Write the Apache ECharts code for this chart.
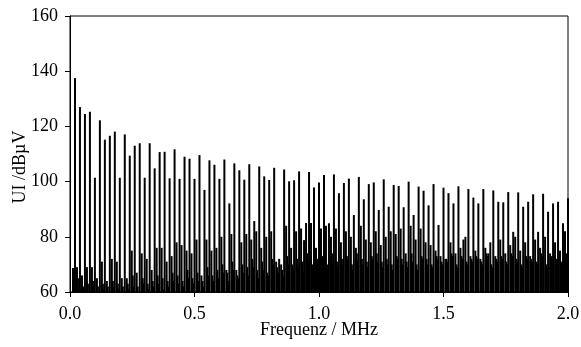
<!DOCTYPE html>
<html>
<head>
<meta charset="utf-8">
<script src="https://cdn.jsdelivr.net/npm/echarts@6/dist/echarts.min.js"></script>
<style>html,body{margin:0;padding:0;background:#fff}#c{width:581px;height:347px}</style>
</head>
<body>
<div id="c"></div>
<script>
// Fundamental frequency of the harmonic comb (MHz)
const fundamentalMHz = 0.02;
// Harmonic peak levels (dBµV), harmonics 1..100
const peakLevels = [
  137.5,127,124.5,125.3,101.4,122.2,115.2,116.6,118.1,101.4,
  117.1,109.4,113,113.9,101.4,113.9,104.8,110.7,110.8,101.2,
  111.7,101,109,108.3,101,109.6,97,107.7,106.1,101,
  108,92.1,106.6,104.1,100.7,106.3,85.7,105.5,101.9,100.6,
  105,72,104.4,100.1,100.5,103.7,78.8,103.5,97.9,99.7,
  102.4,84.9,102.6,95.8,99.5,101.1,87.9,101.7,93.6,99.1,
  99.7,89.7,100.8,90.9,98.8,98.4,90.7,100,87.9,98.2,
  96.7,91.4,99.1,84.3,97.8,95.8,92.1,98.3,79,97.3,
  94.2,92.1,97.3,74,96.8,92.7,92.5,96.2,81.8,96.1,
  90.9,92.7,95.4,81.8,95.6,89.1,92.1,92.7,84.9,94
];
// Companion (inter-harmonic) spikes, higher set (dBµV)
const noiseHigh = [
  69,66,69,69,65,71,64,72,71,65,
  65,75,67,74,72,68,76,76,71,73,
  78,77,75,74,79,66,79,75,76,80,
  68,81,68,78,81,79,82,76,80,82,
  71,70,84,76,82,83,85,85,76,83,
  84,80,83,78,82,80,76,84,79,78,
  82,77,80,82,81,83,74,84,79,83,
  78,77,75,73,72,78,74,76,80,73,
  75,72,76,78,73,79,74,77,80,75,
  78,73,79,76,80,74,78,75,82,76
];
// Companion spikes, lower set (dBµV)
const noiseLow = [
  65,62,63,64,62,63,62,64,63,62,
  63,66,62,65,63,64,66,65,64,67,
  66,64,68,65,67,64,69,66,68,70,
  67,71,66,70,69,72,68,71,67,72,
  69,68,73,70,72,71,74,70,72,73,
  70,74,71,72,73,70,74,72,71,73,
  74,71,72,70,73,72,71,74,70,73,
  72,70,73,71,72,74,70,73,71,72,
  73,71,74,70,72,73,71,74,72,70,
  73,72,71,74,70,73,72,71,74,72
];
// Companion spikes, third set just before the next harmonic (dBµV)
const noiseMid = [
  60,61,60,62,60,61,60,62,61,60,
  61,62,60,63,61,62,63,61,62,64,
  63,62,65,63,64,62,66,64,65,67,
  64,68,65,67,66,69,65,68,66,70,
  67,66,70,68,69,67,71,68,70,69,
  68,71,69,70,72,68,71,70,69,72,
  71,69,70,68,72,70,69,71,68,72,
  70,69,72,70,71,73,69,72,70,71,
  72,70,73,69,71,72,70,73,71,69,
  72,71,70,73,69,72,71,70,73,71
];
const xTicks = [0, 0.5, 1.0, 1.5, 2.0];
const yTicks = [60, 80, 100, 120, 140, 160];

const data = [[0.012, 68.7]];
peakLevels.forEach((v, i) => {
  const f = (i + 1) * fundamentalMHz;
  data.push([f, v]);
  data.push([f + 0.008, noiseHigh[i]]);
  data.push([f + 0.012, noiseLow[i]]);
  data.push([f + 0.016, noiseMid[i]]);
});

const font = 'Liberation Serif';
const chart = echarts.init(document.getElementById('c'));
chart.setOption({
  animation: false,
  backgroundColor: '#fff',
  grid: { left: 70, right: 13, top: 16, bottom: 55, outerBoundsMode: 'none', containLabel: false, show: true, borderColor: '#000', borderWidth: 1, backgroundColor: 'transparent' },
  xAxis: {
    type: 'value', min: xTicks[0], max: xTicks[xTicks.length - 1], interval: 0.5,
    name: 'Frequenz / MHz', nameLocation: 'middle', nameGap: 29, nameMoveOverlap: false,
    nameTextStyle: { fontFamily: font, fontSize: 18, color: '#000' },
    axisLine: { show: true, lineStyle: { color: '#000', width: 1 } },
    axisTick: { show: true, inside: false, length: 5, lineStyle: { color: '#000' } },
    axisLabel: { fontFamily: font, fontSize: 18, color: '#000', margin: 13, formatter: v => v.toFixed(1) },
    splitLine: { show: false }
  },
  yAxis: {
    type: 'value', min: yTicks[0], max: yTicks[yTicks.length - 1], interval: 20,
    axisLine: { show: true, lineStyle: { color: '#000', width: 1 } },
    axisTick: { show: true, inside: false, length: 5, lineStyle: { color: '#000' } },
    axisLabel: { fontFamily: font, fontSize: 18, color: '#000', margin: 12 },
    splitLine: { show: false }
  },
  graphic: [{
    type: 'text', x: 20, y: 167, rotation: Math.PI / 2,
    style: { text: 'UI /dBµV', font: '18px "Liberation Serif"', fill: '#000', textAlign: 'center', textVerticalAlign: 'middle' }
  }],
  series: [{
    type: 'bar', data: data, barWidth: 2, clip: true,
    itemStyle: { color: '#000' }, silent: true
  }]
});
</script>
</body>
</html>
